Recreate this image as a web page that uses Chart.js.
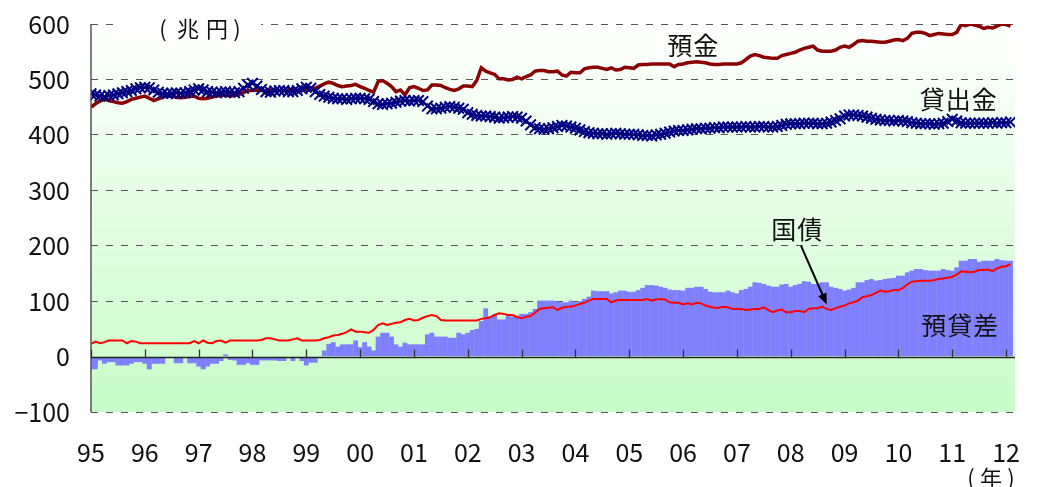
<!DOCTYPE html>
<html><head><meta charset="utf-8">
<script src="https://cdn.jsdelivr.net/npm/chart.js@4.4.1/dist/chart.umd.min.js"></script>
<style>html,body{margin:0;padding:0;background:#fff}#wrap{width:1038px;height:487px}</style>
</head><body><div id="wrap"><canvas id="c"></canvas></div>
<script>
// Monthly series, Jan 1995 .. Feb 2012 (兆円)
const startYear = 1995;
const yearLabels = ['95','96','97','98','99','00','01','02','03','04','05','06','07','08','09','10','11','12'];

// 預金
const deposits = [
  450,456,461,464,462,460,458,457,460,464,466,468,
  470,466,462,465,468,470,470,468,467,468,469,470,
  466,465,466,468,470,471,472,470,471,473,476,480,
  480,481,480,479,480,481,480,479,481,482,480,481,
  481,482,484,488,492,495,493,489,487,488,489,491,
  487,484,480,477,496,498,493,487,478,481,472,485,
  487,484,480,481,490,490,489,485,482,480,483,488,
  488,487,498,521,515,512,509,501,501,499,500,504,
  501,505,508,515,516,516,514,514,515,508,506,513,
  512,512,519,521,522,522,520,518,521,517,518,522,
  521,520,526,527,527,528,528,528,528,528,523,527,
  528,530,531,532,531,530,528,527,527,528,528,528,
  528,530,536,542,545,543,540,539,538,538,543,545,
  547,549,553,556,558,560,553,551,551,551,553,558,
  560,558,563,569,570,569,569,568,567,567,569,571,
  572,570,574,583,585,585,583,579,581,583,582,581,
  581,585,599,597,600,598,596,592,594,593,596,600,
  599,596
];

// 貸出金
const loans = [
  474,472,470,469,471,472,474,476,478,480,483,485,
  486,485,481,477,475,474,475,476,475,476,478,481,
  483,481,478,477,476,477,478,477,476,478,484,490,
  493,488,482,478,477,479,480,480,478,478,480,483,
  486,484,478,473,470,468,466,465,465,464,465,466,
  466,465,464,460,456,455,456,457,459,461,462,461,
  462,462,460,452,447,447,448,450,451,450,448,446,
  440,437,435,434,434,433,432,430,431,432,433,432,
  430,425,418,413,411,410,411,413,415,417,416,414,
  412,409,406,404,403,402,402,401,402,403,402,401,
  401,401,400,399,399,398,400,401,403,405,407,408,
  408,409,410,411,411,412,412,413,413,414,414,414,
  414,414,415,414,414,415,415,414,414,415,417,419,
  420,420,420,421,421,421,420,420,421,423,426,429,
  434,436,436,435,434,432,430,428,427,426,426,425,
  426,425,424,422,421,420,420,420,419,420,421,424,
  428,425,422,421,421,421,421,421,421,422,421,422,
  422,423
];

// 国債
const jgb = [
  23,27,24,26,29,29,29,29,24,28,27,24,
  24,24,24,24,24,24,24,24,24,24,24,28,
  24,29,25,24,28,29,25,29,29,29,29,29,
  29,29,30,33,33,31,29,29,29,31,33,29,
  29,29,29,30,33,35,38,39,41,44,49,45,
  45,44,43,48,57,60,57,59,61,62,66,68,
  65,66,70,73,75,73,66,65,65,65,65,65,
  65,65,65,68,69,71,75,78,77,75,75,71,
  69,72,73,79,86,87,88,89,84,88,90,90,
  92,95,97,101,104,104,104,104,98,101,102,102,
  102,102,102,102,104,101,103,104,103,98,97,97,
  94,96,94,97,96,92,90,88,88,90,89,86,
  86,86,84,85,86,86,89,84,80,83,85,80,
  80,82,82,80,86,87,87,90,86,84,87,90,
  92,96,98,101,107,109,111,115,119,117,118,120,
  120,124,130,135,136,137,137,137,138,140,141,142,
  144,148,154,153,152,153,156,156,157,154,159,162,
  163,167
];

// 預貸差
const gap = [
  -23,-23,-7,-13,-10,-10,-16,-16,-16,-13,-10,-10,
  -13,-23,-13,-13,-13,0,0,-12,-12,0,-12,-12,
  -18,-23,-18,-13,-13,-8,4,-6,-7,-15,-15,-12,
  -15,-15,-7,-7,-7,-7,-8,-8,0,-8,0,-8,
  -16,-11,-11,0,11,23,26,18,22,22,22,29,
  17,26,18,11,36,43,43,36,22,18,25,22,
  22,22,22,40,43,36,36,36,34,34,43,40,
  43,48,50,64,87,72,76,67,67,76,72,74,
  77,77,80,86,101,101,101,101,99,98,98,101,
  98,100,104,108,119,118,118,118,114,116,119,119,
  117,117,120,124,129,129,128,126,124,121,120,120,
  119,124,124,126,126,122,117,116,116,116,119,116,
  114,120,122,126,134,133,131,128,126,126,130,131,
  126,129,131,136,135,131,131,134,134,126,124,122,
  119,121,124,134,134,138,140,137,138,140,141,142,
  146,146,152,155,158,158,156,155,155,155,158,156,
  155,161,173,173,176,176,171,173,173,173,176,174,
  173,173
];

const yTicks = [-100, 0, 100, 200, 300, 400, 500, 600];

const monthX = i => startYear + i / 12;
const pts = arr => arr.map((v, i) => ({ x: monthX(i), y: v }));

const JP = '"Noto Sans CJK JP", "Noto Sans", sans-serif';
const INK = '#111';

// draws a string glyph by glyph at given centre positions
function spaced(ctx, chars, xs, yc) {
  chars.forEach((ch, i) => ctx.fillText(ch, xs[i], yc));
}

const decor = {
  id: 'decor',
  beforeDraw(chart) {
    const { ctx, chartArea: a } = chart;
    const g = ctx.createLinearGradient(0, a.top, 0, a.bottom);
    g.addColorStop(0, '#ffffff');
    g.addColorStop(1, '#c8fcc8');
    ctx.save();
    ctx.fillStyle = g;
    ctx.fillRect(a.left, a.top, a.right - a.left, a.bottom - a.top);
    ctx.restore();
  },
  afterDatasetsDraw(chart) {
    const { ctx, chartArea: a, scales: { x, y } } = chart;
    ctx.save();
    // left axis line
    ctx.strokeStyle = '#555';
    ctx.lineWidth = 1.5;
    ctx.beginPath();
    ctx.moveTo(a.left, a.top);
    ctx.lineTo(a.left, a.bottom);
    ctx.stroke();
    // zero line with year ticks
    const y0 = Math.round(y.getPixelForValue(0)) + 0.5;
    ctx.strokeStyle = '#222';
    ctx.lineWidth = 1.5;
    ctx.beginPath();
    ctx.moveTo(a.left, y0);
    ctx.lineTo(a.right, y0);
    ctx.stroke();
    ctx.lineWidth = 1.3;
    ctx.strokeStyle = '#333';
    yearLabels.forEach((_, i) => {
      const px = Math.round(x.getPixelForValue(startYear + i)) + 0.5;
      ctx.beginPath();
      ctx.moveTo(px, y0);
      ctx.lineTo(px, y0 - 8);
      ctx.stroke();
    });

    // unit label over the top gridline
    ctx.fillStyle = '#fff';
    ctx.fillRect(a.left + 24, a.top - 9, 146, 20);
    ctx.fillStyle = INK;
    ctx.textAlign = 'center';
    ctx.textBaseline = 'middle';
    ctx.font = '22px ' + JP;
    spaced(ctx, ['(', '兆', '円', ')'],
      [a.left + 72, a.left + 97, a.left + 126, a.left + 146], a.top + 5);

    // series names
    ctx.font = '25px ' + JP;
    ctx.letterSpacing = '1px';
    const label = (t, vx, vy) => ctx.fillText(t, x.getPixelForValue(vx), y.getPixelForValue(vy));
    label('預金', 2006.19, 561);
    label('貸出金', 2011.12, 464);
    label('国債', 2008.12, 229);
    label('預貸差', 2011.15, 56);
    ctx.letterSpacing = '0px';

    // arrow from 国債 to its line
    const x1 = x.getPixelForValue(2008.19), y1 = y.getPixelForValue(200);
    const x2 = x.getPixelForValue(2008.67), y2 = y.getPixelForValue(94);
    const ang = Math.atan2(y2 - y1, x2 - x1);
    const hl = 11, hw = 4.5;
    ctx.strokeStyle = '#000';
    ctx.lineWidth = 2;
    ctx.beginPath();
    ctx.moveTo(x1, y1);
    ctx.lineTo(x2 - Math.cos(ang) * hl * 0.8, y2 - Math.sin(ang) * hl * 0.8);
    ctx.stroke();
    ctx.fillStyle = '#000';
    ctx.beginPath();
    ctx.moveTo(x2, y2);
    ctx.lineTo(x2 - Math.cos(ang) * hl + Math.sin(ang) * hw, y2 - Math.sin(ang) * hl - Math.cos(ang) * hw);
    ctx.lineTo(x2 - Math.cos(ang) * hl - Math.sin(ang) * hw, y2 - Math.sin(ang) * hl + Math.cos(ang) * hw);
    ctx.closePath();
    ctx.fill();

    // year unit
    ctx.fillStyle = INK;
    ctx.font = '22px ' + JP;
    spaced(ctx, ['(', '年', ')'], [a.right - 44, a.right - 24, a.right - 4], a.bottom + 66);
    ctx.restore();
  }
};

new Chart(document.getElementById('c'), {
  data: {
    datasets: [
      { type: 'line', label: '貸出金', data: pts(loans), order: 0,
        borderColor: '#000080', borderWidth: 2, tension: 0,
        pointStyle: 'crossRot', pointRadius: 7.5, pointBorderWidth: 2,
        pointBorderColor: '#000080', pointBackgroundColor: '#000080' },
      { type: 'line', label: '預金', data: pts(deposits), order: 1,
        borderColor: '#8b0000', borderWidth: 3.5, tension: 0, pointRadius: 0 },
      { type: 'line', label: '国債', data: pts(jgb), order: 2,
        borderColor: '#ff0000', borderWidth: 2, tension: 0, pointRadius: 0 },
      { type: 'bar', label: '預貸差', data: pts(gap), order: 3,
        backgroundColor: '#8080ff', borderWidth: 0,
        barPercentage: 1.08, categoryPercentage: 1 }
    ]
  },
  options: {
    responsive: true,
    maintainAspectRatio: false,
    devicePixelRatio: 1,
    animation: false,
    layout: { padding: { top: 24, right: 23, left: 0, bottom: 0 } },
    plugins: { legend: { display: false }, tooltip: { enabled: false } },
    scales: {
      x: {
        type: 'linear',
        offset: false,
        min: startYear,
        max: startYear + 17 + 2 / 12,
        afterBuildTicks: s => { s.ticks = yearLabels.map((_, i) => ({ value: startYear + i })); },
        afterFit: s => { s.height = 75; },
        grid: { display: false, offset: false },
        border: { display: false },
        ticks: {
          autoSkip: false, maxRotation: 0, padding: 17, color: INK,
          font: { family: JP, size: 25 },
          callback: v => yearLabels[Math.round(v) - startYear]
        }
      },
      y: {
        min: -100, max: 600,
        afterBuildTicks: s => { s.ticks = yTicks.map(v => ({ value: v })); },
        afterFit: s => { s.width = 91; },
        grid: {
          drawTicks: true, tickLength: 21, tickColor: 'rgba(0,0,0,0)', lineWidth: 1,
          color: c => (c.tick && c.tick.value === 0) ? 'rgba(0,0,0,0)' : '#555'
        },
        border: { display: false, dash: [7, 8] },
        ticks: {
          padding: 0, color: INK,
          font: { family: JP, size: 25 },
          callback: v => v < 0 ? '−' + Math.abs(v) : String(v)
        }
      }
    }
  },
  plugins: [decor]
});
</script></body></html>
